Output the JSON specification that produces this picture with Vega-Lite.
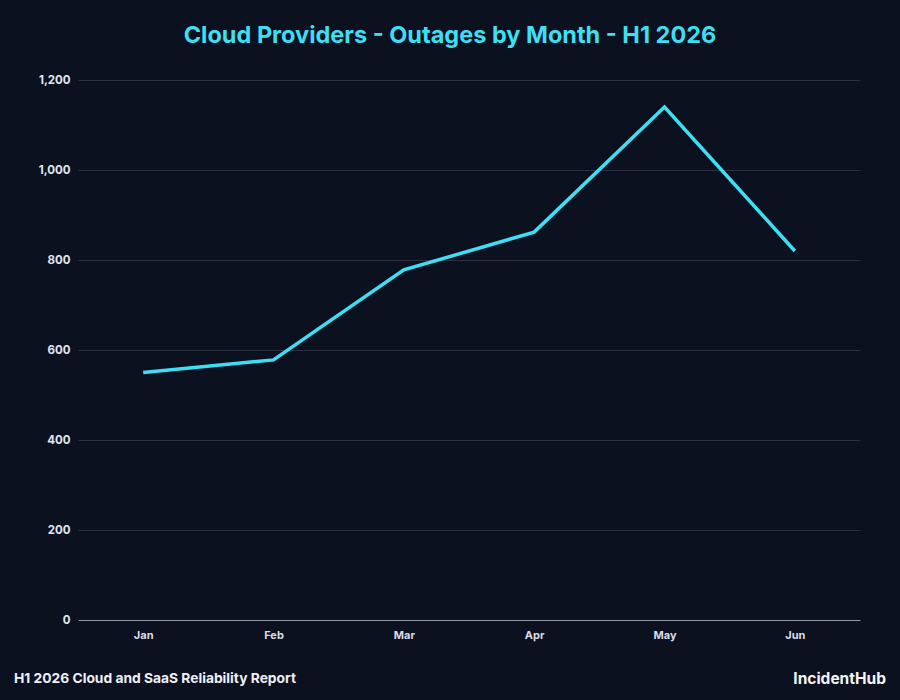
{
  "$schema": "https://vega.github.io/schema/vega-lite/v6.json",
  "autosize": {"type": "none"},
  "width": 782,
  "height": 540,
  "padding": {"left": 78, "top": 80, "right": 40, "bottom": 80},
  "background": "#0c1120",
  "config": {
    "view": {"stroke": null},
    "font": "Inter"
  },
  "title": {
    "text": "Cloud Providers - Outages by Month - H1 2026",
    "color": "#3ddff4",
    "fontSize": 23.5,
    "fontWeight": "bold",
    "font": "Inter",
    "anchor": "middle",
    "dx": -19,
    "offset": 27
  },
  "data": {
    "values": [
      {"month": "Jan", "outages": 550},
      {"month": "Feb", "outages": 578},
      {"month": "Mar", "outages": 778},
      {"month": "Apr", "outages": 862},
      {"month": "May", "outages": 1140},
      {"month": "Jun", "outages": 820}
    ]
  },
  "layer": [
    {
      "mark": {"type": "line", "color": "#3ddff4", "strokeWidth": 3.5, "strokeJoin": "miter"},
      "encoding": {
        "x": {
          "field": "month",
          "type": "ordinal",
          "sort": ["Jan", "Feb", "Mar", "Apr", "May", "Jun"],
          "scale": {"type": "point", "padding": 0.5},
          "axis": {
            "title": null,
            "labelAngle": 0,
            "ticks": false,
            "grid": false,
            "domainColor": "#8f97a8",
            "domainWidth": 1,
            "labelColor": "#d9dde6",
            "labelFontSize": 11,
            "labelFontWeight": "bold",
            "labelPadding": 9
          }
        },
        "y": {
          "field": "outages",
          "type": "quantitative",
          "scale": {"domain": [0, 1200]},
          "axis": {
            "title": null,
            "values": [0, 200, 400, 600, 800, 1000, 1200],
            "format": ",d",
            "domain": false,
            "ticks": false,
            "gridColor": "#2b3142",
            "gridWidth": 1,
            "labelColor": "#e3e6ee",
            "labelFontSize": 11.5,
            "labelFontWeight": "bold",
            "labelPadding": 8
          }
        }
      }
    },
    {
      "data": {"values": [{"label": "H1 2026 Cloud and SaaS Reliability Report"}]},
      "mark": {
        "type": "text",
        "align": "left",
        "baseline": "middle",
        "color": "#eef0f5",
        "fontSize": 13.8,
        "fontWeight": "bold",
        "x": -64,
        "y": 599
      },
      "encoding": {"text": {"field": "label"}}
    },
    {
      "data": {"values": [{"label": "IncidentHub"}]},
      "mark": {
        "type": "text",
        "align": "right",
        "baseline": "middle",
        "color": "#f4f5f8",
        "fontSize": 15.5,
        "fontWeight": "bold",
        "x": 808,
        "y": 599
      },
      "encoding": {"text": {"field": "label"}}
    }
  ]
}
